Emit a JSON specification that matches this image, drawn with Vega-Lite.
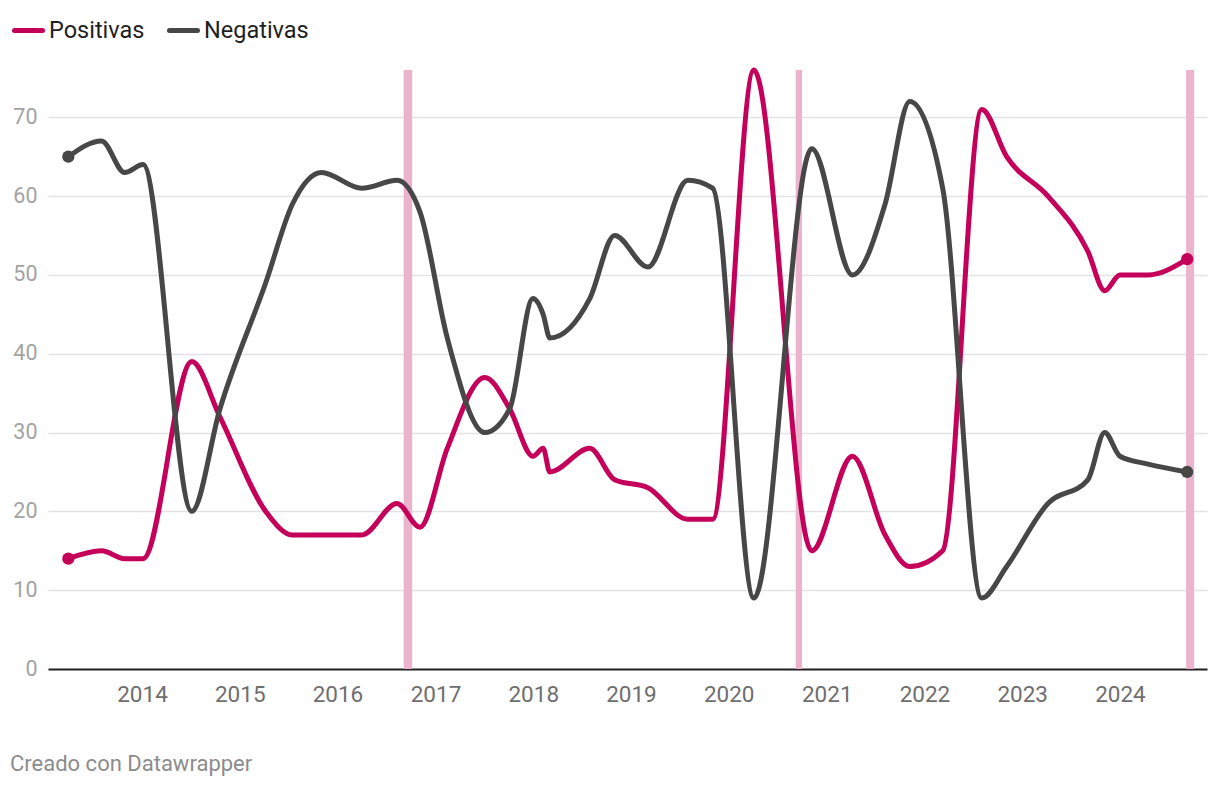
{
  "$schema": "https://vega.github.io/schema/vega-lite/v6.json",
  "width": 1159,
  "height": 599,
  "autosize": {"type": "none"},
  "padding": {"left": 48, "top": 70, "right": 13, "bottom": 117},
  "background": "#ffffff",
  "config": {
    "font": "Roboto",
    "view": {"stroke": null}
  },
  "title": {
    "text": "Creado con Datawrapper",
    "orient": "bottom",
    "anchor": "start",
    "frame": "bounds",
    "dx": -2,
    "offset": 48,
    "fontSize": 22,
    "fontWeight": "normal",
    "color": "#8c8c8c",
    "font": "Roboto"
  },
  "datasets": {
    "encuesta": [
      {"fecha": "2013-04-01", "serie": "Positivas", "valor": 14},
      {"fecha": "2013-08-03", "serie": "Positivas", "valor": 15},
      {"fecha": "2013-10-28", "serie": "Positivas", "valor": 14},
      {"fecha": "2014-01-05", "serie": "Positivas", "valor": 14},
      {"fecha": "2014-07-06", "serie": "Positivas", "valor": 39},
      {"fecha": "2014-10-19", "serie": "Positivas", "valor": 32},
      {"fecha": "2015-04-08", "serie": "Positivas", "valor": 20},
      {"fecha": "2015-07-17", "serie": "Positivas", "valor": 17},
      {"fecha": "2015-11-02", "serie": "Positivas", "valor": 17},
      {"fecha": "2016-04-01", "serie": "Positivas", "valor": 17},
      {"fecha": "2016-08-10", "serie": "Positivas", "valor": 21},
      {"fecha": "2016-11-04", "serie": "Positivas", "valor": 18},
      {"fecha": "2017-02-14", "serie": "Positivas", "valor": 28},
      {"fecha": "2017-07-04", "serie": "Positivas", "valor": 37},
      {"fecha": "2017-10-05", "serie": "Positivas", "valor": 33},
      {"fecha": "2017-12-31", "serie": "Positivas", "valor": 27},
      {"fecha": "2018-02-07", "serie": "Positivas", "valor": 28},
      {"fecha": "2018-03-04", "serie": "Positivas", "valor": 25},
      {"fecha": "2018-07-31", "serie": "Positivas", "valor": 28},
      {"fecha": "2018-11-01", "serie": "Positivas", "valor": 24},
      {"fecha": "2019-03-05", "serie": "Positivas", "valor": 23},
      {"fecha": "2019-08-01", "serie": "Positivas", "valor": 19},
      {"fecha": "2019-11-02", "serie": "Positivas", "valor": 19},
      {"fecha": "2020-04-04", "serie": "Positivas", "valor": 76},
      {"fecha": "2020-11-06", "serie": "Positivas", "valor": 15},
      {"fecha": "2021-04-07", "serie": "Positivas", "valor": 27},
      {"fecha": "2021-08-07", "serie": "Positivas", "valor": 17},
      {"fecha": "2021-11-07", "serie": "Positivas", "valor": 13},
      {"fecha": "2022-03-10", "serie": "Positivas", "valor": 15},
      {"fecha": "2022-08-03", "serie": "Positivas", "valor": 71},
      {"fecha": "2022-11-04", "serie": "Positivas", "valor": 65},
      {"fecha": "2023-04-07", "serie": "Positivas", "valor": 60},
      {"fecha": "2023-09-03", "serie": "Positivas", "valor": 53},
      {"fecha": "2023-11-05", "serie": "Positivas", "valor": 48},
      {"fecha": "2024-01-01", "serie": "Positivas", "valor": 50},
      {"fecha": "2024-04-15", "serie": "Positivas", "valor": 50},
      {"fecha": "2024-09-08", "serie": "Positivas", "valor": 52},
      {"fecha": "2013-04-01", "serie": "Negativas", "valor": 65},
      {"fecha": "2013-08-03", "serie": "Negativas", "valor": 67},
      {"fecha": "2013-10-28", "serie": "Negativas", "valor": 63},
      {"fecha": "2014-01-05", "serie": "Negativas", "valor": 64},
      {"fecha": "2014-07-06", "serie": "Negativas", "valor": 20},
      {"fecha": "2014-10-19", "serie": "Negativas", "valor": 33},
      {"fecha": "2015-04-08", "serie": "Negativas", "valor": 49},
      {"fecha": "2015-07-17", "serie": "Negativas", "valor": 59},
      {"fecha": "2015-11-02", "serie": "Negativas", "valor": 63},
      {"fecha": "2016-04-01", "serie": "Negativas", "valor": 61},
      {"fecha": "2016-08-10", "serie": "Negativas", "valor": 62},
      {"fecha": "2016-11-04", "serie": "Negativas", "valor": 58},
      {"fecha": "2017-02-14", "serie": "Negativas", "valor": 42},
      {"fecha": "2017-07-04", "serie": "Negativas", "valor": 30},
      {"fecha": "2017-10-05", "serie": "Negativas", "valor": 33},
      {"fecha": "2017-12-31", "serie": "Negativas", "valor": 47},
      {"fecha": "2018-02-07", "serie": "Negativas", "valor": 45},
      {"fecha": "2018-03-04", "serie": "Negativas", "valor": 42},
      {"fecha": "2018-07-31", "serie": "Negativas", "valor": 47},
      {"fecha": "2018-11-01", "serie": "Negativas", "valor": 55},
      {"fecha": "2019-03-05", "serie": "Negativas", "valor": 51},
      {"fecha": "2019-08-01", "serie": "Negativas", "valor": 62},
      {"fecha": "2019-11-02", "serie": "Negativas", "valor": 61},
      {"fecha": "2020-04-04", "serie": "Negativas", "valor": 9},
      {"fecha": "2020-11-06", "serie": "Negativas", "valor": 66},
      {"fecha": "2021-04-07", "serie": "Negativas", "valor": 50},
      {"fecha": "2021-08-07", "serie": "Negativas", "valor": 59},
      {"fecha": "2021-11-07", "serie": "Negativas", "valor": 72},
      {"fecha": "2022-03-10", "serie": "Negativas", "valor": 61},
      {"fecha": "2022-08-03", "serie": "Negativas", "valor": 9},
      {"fecha": "2022-11-04", "serie": "Negativas", "valor": 13},
      {"fecha": "2023-04-07", "serie": "Negativas", "valor": 21},
      {"fecha": "2023-09-03", "serie": "Negativas", "valor": 24},
      {"fecha": "2023-11-05", "serie": "Negativas", "valor": 30},
      {"fecha": "2024-01-01", "serie": "Negativas", "valor": 27},
      {"fecha": "2024-04-15", "serie": "Negativas", "valor": 26},
      {"fecha": "2024-09-08", "serie": "Negativas", "valor": 25}
    ],
    "bandas": [
      {"inicio": "2016-09-04", "fin": "2016-10-06"},
      {"inicio": "2020-09-07", "fin": "2020-10-01"},
      {"inicio": "2024-09-04", "fin": "2024-10-04"}
    ]
  },
  "layer": [
    {
      "data": {"name": "bandas"},
      "mark": {"type": "rect", "color": "#ebb3cc", "opacity": 1},
      "encoding": {
        "x": {"field": "inicio", "type": "temporal"},
        "x2": {"field": "fin"}
      }
    },
    {
      "data": {"name": "encuesta"},
      "mark": {"type": "line", "interpolate": "monotone", "strokeWidth": 5, "strokeCap": "round", "strokeJoin": "round"},
      "encoding": {
        "x": {
          "field": "fecha",
          "type": "temporal",
          "scale": {"domain": ["2013-01-15", "2024-11-21"]},
          "axis": {
            "title": null,
            "format": "%Y",
            "tickCount": {"interval": "year", "step": 1},
            "grid": false,
            "ticks": false,
            "domain": true,
            "domainColor": "#222222",
            "domainWidth": 2,
            "labelFontSize": 22.5,
            "labelColor": "#6e6e6e",
            "labelPadding": 14,
            "labelFont": "Roboto"
          }
        },
        "y": {
          "field": "valor",
          "type": "quantitative",
          "scale": {"domain": [0, 76], "nice": false},
          "axis": {
            "title": null,
            "values": [0, 10, 20, 30, 40, 50, 60, 70],
            "domain": false,
            "ticks": false,
            "grid": true,
            "gridColor": "#e3e3e3",
            "gridWidth": 1.5,
            "labelFontSize": 21.5,
            "labelColor": "#a3a3a3",
            "labelPadding": 11,
            "labelFont": "Roboto"
          }
        },
        "color": {
          "field": "serie",
          "type": "nominal",
          "scale": {"domain": ["Positivas", "Negativas"], "range": ["#c4005a", "#474747"]},
          "legend": {
            "title": null,
            "orient": "none",
            "direction": "horizontal",
            "legendX": -36,
            "legendY": -56,
            "padding": 0,
            "symbolType": "stroke",
            "symbolSize": 784,
            "symbolStrokeWidth": 5,
            "labelFontSize": 23.5,
            "labelColor": "#1f1f1f",
            "labelFont": "Roboto",
            "labelOffset": 4,
            "columnPadding": 14,
            "encode": {"symbols": {"update": {"strokeCap": {"value": "round"}}}}
          }
        }
      }
    },
    {
      "data": {"name": "encuesta"},
      "transform": [{"filter": "time(datum.fecha) < time(datetime(2013, 5, 1)) || time(datum.fecha) > time(datetime(2024, 6, 1))"}],
      "mark": {"type": "point", "filled": true, "size": 150, "opacity": 1},
      "encoding": {
        "x": {"field": "fecha", "type": "temporal"},
        "y": {"field": "valor", "type": "quantitative"},
        "color": {"field": "serie", "type": "nominal", "legend": null}
      }
    }
  ]
}
